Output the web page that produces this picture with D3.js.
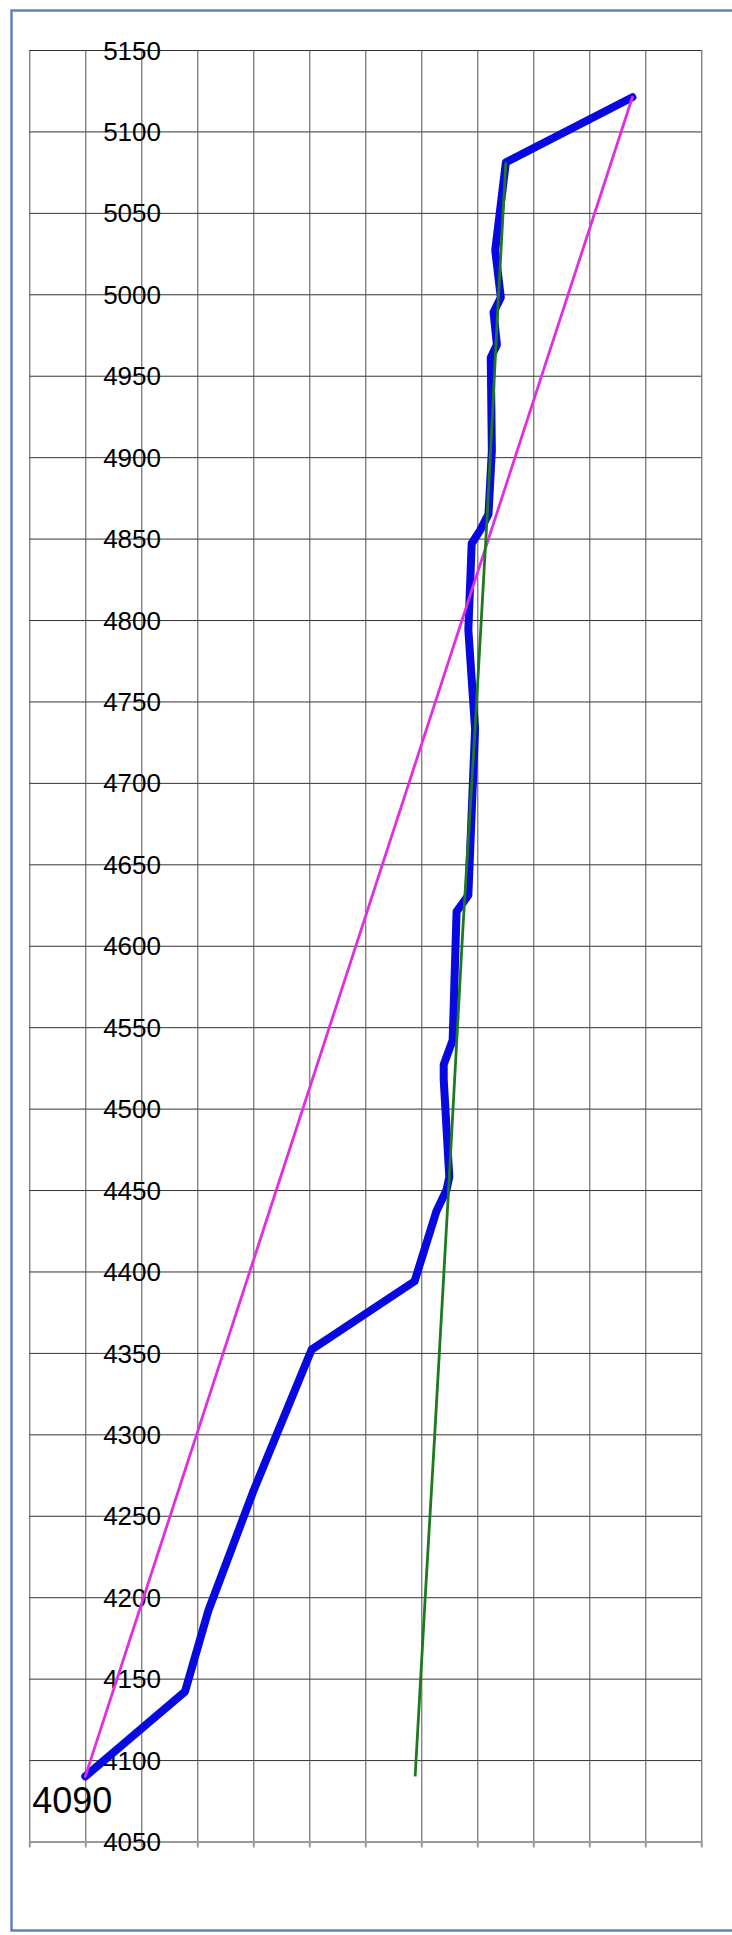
<!DOCTYPE html>
<html>
<head>
<meta charset="utf-8">
<script src="https://cdn.jsdelivr.net/npm/d3@7"></script>
<style>
  html, body { margin: 0; padding: 0; background: #ffffff; }
  svg { display: block; }
  text { font-family: "Liberation Sans", Arial, sans-serif; }
</style>
</head>
<body>
<svg id="chart" width="732" height="1935"></svg>
<script>
// ---- data (x in grid units, y value) ----
const xTicks = [0,1,2,3,4,5,6,7,8,9,10,11,12];
const yTicks = [4050,4100,4150,4200,4250,4300,4350,4400,4450,4500,4550,4600,4650,4700,4750,4800,4850,4900,4950,5000,5050,5100,5150];

const blueX = [1.00, 2.78, 3.20, 4.00, 5.04, 6.88, 7.27, 7.45, 7.50, 7.40, 7.40, 7.56, 7.63, 7.84, 7.96, 7.84, 7.90, 8.05, 8.20, 8.26, 8.24, 8.35, 8.29, 8.42, 8.32, 8.51, 10.77];
const blueY = [4090, 4142, 4192, 4265, 4352, 4394, 4437, 4450, 4458, 4518, 4527, 4542, 4621, 4631, 4733, 4794, 4847, 4855, 4865, 4904, 4961, 4969, 4989, 4998, 5027, 5081, 5121];

const greenX = [6.89, 7.07, 7.24, 7.50, 7.74, 7.96, 8.18, 8.38, 8.51];
const greenY = [4090, 4200, 4300, 4458, 4609, 4733, 4866, 5000, 5081];

const magentaX = [1.00, 10.77];
const magentaY = [4090, 5121];

const startLabel = "4090";

// ---- layout ----
const svg = d3.select("#chart");
const x = d3.scaleLinear().domain([0, 12]).range([29.3, 701.3]);
const y = d3.scaleLinear().domain([4050, 5150]).range([1841.5, 50]);

// outer frame
svg.append("rect")
  .attr("x", 11.5).attr("y", 10.5)
  .attr("width", 760).attr("height", 1920)
  .attr("fill", "none")
  .attr("stroke", "#5f82ba")
  .attr("stroke-width", 2.5);

// horizontal gridlines
const gy = svg.append("g")
  .attr("transform", `translate(${x(0)},0)`)
  .call(d3.axisLeft(y).tickValues(yTicks).tickSize(-(x(12) - x(0))).tickFormat(""));
gy.select(".domain").remove();
gy.selectAll(".tick line").attr("stroke", "#333333").attr("stroke-width", 1);

// vertical gridlines
const gx = svg.append("g")
  .attr("transform", `translate(0,${y(4050)})`)
  .call(d3.axisBottom(x).tickValues(xTicks).tickSize(-(y(4050) - y(5150))).tickFormat(""));
gx.select(".domain").remove();
gx.selectAll(".tick line").attr("stroke", "#505050").attr("stroke-width", 1);

// bottom axis with ticks
const ax = svg.append("g")
  .attr("transform", `translate(0,${y(4050)})`)
  .call(d3.axisBottom(x).tickValues(xTicks).tickSize(6).tickSizeOuter(0).tickFormat(""));
ax.select(".domain").attr("stroke", "#9a9a9a").attr("stroke-width", 2);
ax.selectAll(".tick line").attr("stroke", "#9a9a9a").attr("stroke-width", 2);

// y axis labels
const ay = svg.append("g")
  .attr("transform", `translate(161,0)`)
  .call(d3.axisLeft(y).tickValues(yTicks).tickSize(0).tickPadding(0).tickFormat(d3.format("d")));
ay.select(".domain").remove();
ay.selectAll(".tick text")
  .attr("fill", "#000")
  .style("font-size", "26px")
  .attr("dy", "0.35em");

// start label
svg.append("text")
  .attr("x", x(1) - 53).attr("y", y(4090) + 37)
  .attr("fill", "#000")
  .style("font-size", "36px")
  .text(startLabel);

const line = d3.line().x(d => x(d[0])).y(d => y(d[1]));

const blue = blueX.map((v, i) => [v, blueY[i]]);
const green = greenX.map((v, i) => [v, greenY[i]]);
const magenta = magentaX.map((v, i) => [v, magentaY[i]]);

svg.append("path").datum(blue)
  .attr("d", line).attr("fill", "none")
  .attr("stroke", "#0808e0").attr("stroke-width", 8)
  .attr("stroke-linejoin", "round").attr("stroke-linecap", "round");

svg.append("path").datum(magenta)
  .attr("d", line).attr("fill", "none")
  .attr("stroke", "#e22ee2").attr("stroke-width", 2.8)
  .attr("stroke-linecap", "round");

svg.append("path").datum(green)
  .attr("d", line).attr("fill", "none")
  .attr("stroke", "#1e7a1e").attr("stroke-width", 2.8)
  .attr("stroke-linejoin", "round");
</script>
</body>
</html>
